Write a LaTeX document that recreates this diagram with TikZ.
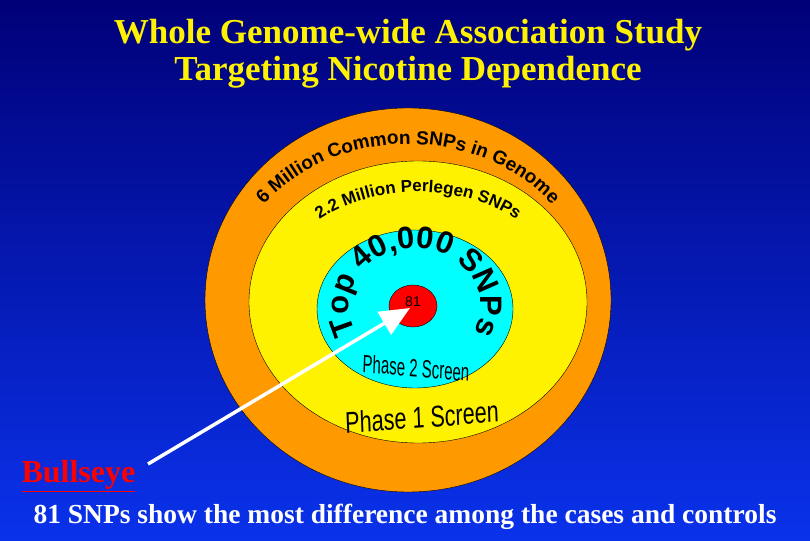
\documentclass[tikz,border=0pt]{standalone}
\usepackage{fontspec}
\setmainfont{Liberation Serif}
\newfontfamily\arialf{Liberation Sans}
\newfontfamily\arialb{Liberation Sans Bold}
\usetikzlibrary{decorations.text,arrows.meta,shapes.geometric}
\definecolor{cyanb}{RGB}{0,255,255}
\definecolor{orangeb}{RGB}{255,153,0}
\begin{document}
\begin{tikzpicture}[x=1pt,y=1pt,
  ringtext/.style={decorate,decoration={text along path,text align=center,text={#1}}}]
\useasboundingbox (0,0) rectangle (810,540);
\shade[top color={rgb,255:red,0;green,0;blue,120}, bottom color={rgb,255:red,10;green,50;blue,235}] (0,0) rectangle (810,540);
\node[text=yellow,font=\bfseries\fontsize{35}{37}\selectfont,align=center] (title) at (408,486) {Whole Genome-wide Association Study\\ Targeting Nicotine Dependence};
\node[draw=black,fill=orangeb,ellipse,minimum width=406pt,minimum height=384pt,inner sep=0pt] (orange) at (408,240) {};
\node[draw=black,fill=yellow,ellipse,minimum width=338pt,minimum height=282pt,inner sep=0pt] (yel) at (418,238) {};
\node[draw=black,fill=cyanb,ellipse,minimum width=196pt,minimum height=158pt,inner sep=0pt] (cyn) at (415,231) {};
\node[draw=black,fill=red,ellipse,minimum width=48pt,minimum height=42pt,inner sep=0pt,text=black] (red) at (413,234) {\raisebox{8pt}{\arialf\fontsize{14}{16}\selectfont 81}};
\path[ringtext={|\arialb\fontsize{19}{22}\selectfont|6 Million Common SNPs in Genome}] (408,240) ++(162:182 and 156) arc[start angle=162,end angle=18,x radius=182,y radius=156];
\path[ringtext={|\arialb\fontsize{17}{20}\selectfont|2.2 Million Perlegen SNPs}] (418,238) ++(160:148 and 110) arc[start angle=160,end angle=20,x radius=148,y radius=110];
\path[ringtext={|\arialb\fontsize{31}{34}\selectfont|Top 40,000 SNPs}] (415,234) ++(200:66 and 58) arc[start angle=200,end angle=-20,x radius=66,y radius=58];
\node[font=\arialf\fontsize{25}{28}\selectfont,xscale=0.6,rotate=-3] (p2) at (416,172) {Phase 2 Screen};
\node[font=\arialf\fontsize{30}{34}\selectfont,xscale=0.72,rotate=3] (p1) at (422,123) {Phase 1 Screen};
\node[anchor=west,text=red,font=\bfseries\fontsize{32}{36}\selectfont] (bull) at (18,64) {\underline{Bullseye}};
\node[text=white,font=\bfseries\fontsize{27.5}{30}\selectfont] (bottom) at (405,23) {81 SNPs show the most difference among the cases and controls};
\coordinate (tail) at (148,76);
\coordinate (tip) at (410,232);
\draw[white,line width=3.5pt,-{Triangle[length=30pt,width=26pt]}] (tail) -- (tip);
\end{tikzpicture}
\end{document}
